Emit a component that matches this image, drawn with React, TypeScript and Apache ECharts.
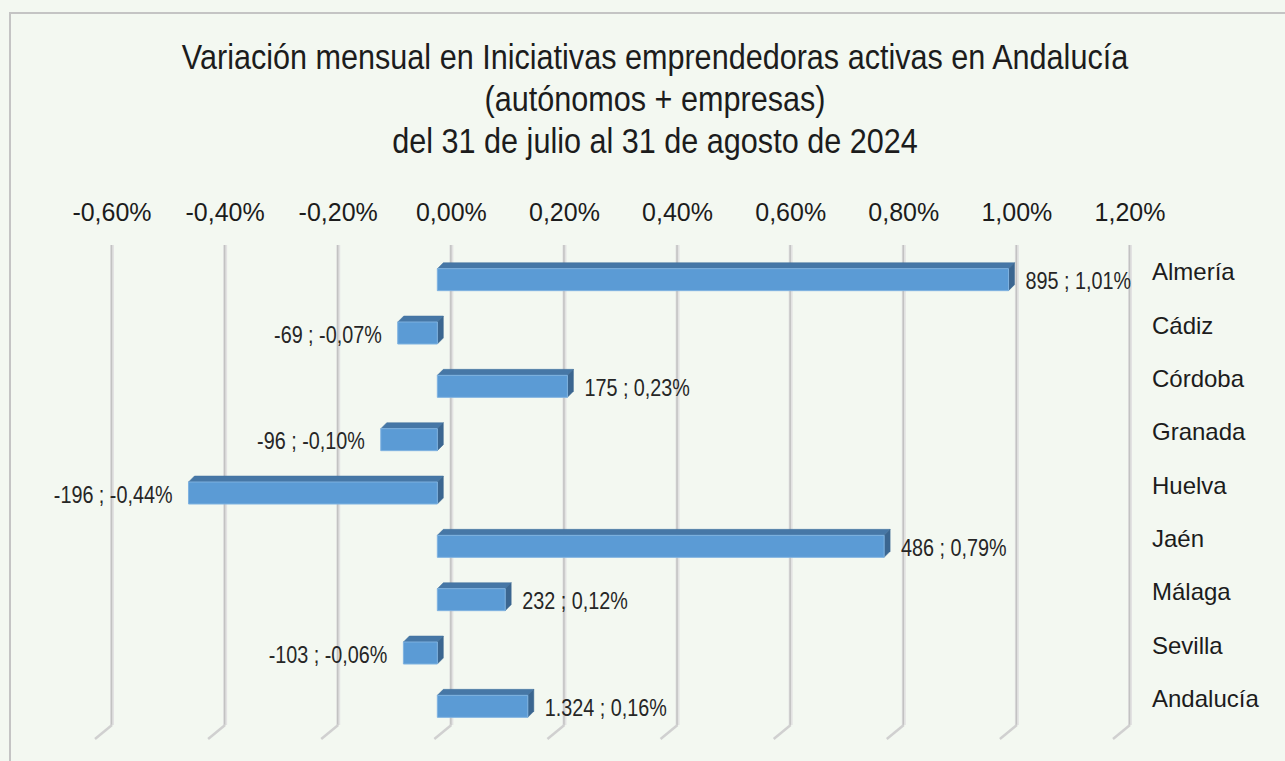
import React, { useEffect, useRef } from "react";
import * as echarts from "echarts";

const categories = ["Almería", "Cádiz", "Córdoba", "Granada", "Huelva", "Jaén", "Málaga", "Sevilla", "Andalucía"];
const pctValues = [1.01, -0.07, 0.23, -0.1, -0.44, 0.79, 0.12, -0.06, 0.16];
const countValues = [895, -69, 175, -96, -196, 486, 232, -103, 1324];
const tickValues = [-0.6, -0.4, -0.2, 0, 0.2, 0.4, 0.6, 0.8, 1.0, 1.2];
const titleLines = [
  "Variación mensual en Iniciativas emprendedoras activas en Andalucía",
  "(autónomos + empresas)",
  "del 31 de julio al 31 de agosto de 2024",
];

const fmtPct = (v: number) => v.toFixed(2).replace(".", ",") + "%";
const fmtCount = (v: number) => {
  const s = Math.abs(v).toString().replace(/\B(?=(\d{3})+(?!\d))/g, ".");
  return (v < 0 ? "-" : "") + s;
};

const FONT = "'Liberation Sans', Arial, sans-serif";
const TXT = "#1c1c1c";

export default function App() {
  const ref = useRef<HTMLDivElement>(null);
  useEffect(() => {
    document.body.style.margin = "0";
    const chart = echarts.init(ref.current!, null, { renderer: "svg" });
    const FX = -14; // front-plane offset
    const FY = 8;
    const BH = 22; // bar thickness
    const DX = 6, DY = -6; // bar depth
    chart.setOption({
      animation: false,
      backgroundColor: "#f3f8f1",
      graphic: [
        {
          type: "rect",
          shape: { x: 10, y: 13, width: 1300, height: 800 },
          style: { fill: "none", stroke: "#c4c4c4", lineWidth: 2 },
          silent: true,
        },
        ...titleLines.map((t, k) => ({
          type: "text",
          x: 655,
          y: 57 + k * 42,
          scaleX: 0.85,
          silent: true,
          style: {
            text: t,
            fontFamily: FONT,
            fontSize: 36,
            fill: TXT,
            align: "center",
            verticalAlign: "middle",
          },
        })),
      ],
      grid: { left: 112, right: 155, top: 245, height: 480 },
      xAxis: {
        type: "value",
        position: "top",
        min: -0.6,
        max: 1.2,
        interval: 0.2,
        axisLine: { show: false },
        axisTick: { show: false },
        splitLine: { show: false },
        axisLabel: {
          margin: 21,
          fontFamily: FONT,
          fontSize: 25,
          color: TXT,
          formatter: (v: number) => fmtPct(v),
        },
      },
      yAxis: {
        type: "category",
        data: categories,
        inverse: true,
        position: "right",
        axisLine: { show: false },
        axisTick: { show: false },
        splitLine: { show: false },
        axisLabel: { align: "left", margin: 22, fontFamily: FONT, fontSize: 24, color: TXT },
      },
      series: [
        {
          type: "custom",
          data: tickValues.map((v) => [v, 0]),
          encode: { x: 0, y: 1 },
          z: 1,
          silent: true,
          renderItem: (params: any, api: any) => {
            const cs = params.coordSys;
            const x = api.coord([api.value(0), 0])[0];
            const top = cs.y;
            const bottom = cs.y + cs.height;
            return {
              type: "group",
              children: [
                { type: "line", shape: { x1: x, y1: top, x2: x, y2: bottom }, style: { stroke: "#e2e2e2", lineWidth: 4 } },
                { type: "line", shape: { x1: x - 0.5, y1: top, x2: x - 0.5, y2: bottom }, style: { stroke: "#c2c2c2", lineWidth: 1.5 } },
                { type: "line", shape: { x1: x, y1: bottom, x2: x - 17, y2: bottom + 14 }, style: { stroke: "#d0d0d0", lineWidth: 2.5 } },
              ],
            };
          },
        },
        {
          type: "custom",
          data: pctValues.map((v, i) => [v, i]),
          encode: { x: 0, y: 1 },
          z: 3,
          renderItem: (params: any, api: any) => {
            const v = api.value(0);
            const idx = api.value(1);
            const i = params.dataIndex;
            const p0 = api.coord([0, idx]);
            const p1 = api.coord([v, idx]);
            const xl = Math.min(p0[0], p1[0]) + FX;
            const xr = Math.max(p0[0], p1[0]) + FX;
            const yc = p0[1] + FY;
            const yt = yc - BH / 2;
            const yb = yc + BH / 2;
            const label = fmtCount(countValues[i]) + " ; " + fmtPct(v);
            const pos = v >= 0;
            return {
              type: "group",
              children: [
                {
                  type: "polygon",
                  shape: { points: [[xl, yt], [xr, yt], [xr + DX, yt + DY], [xl + DX, yt + DY]] },
                  style: { fill: "#4677a6", stroke: "#40709c", lineWidth: 0.5 },
                },
                {
                  type: "polygon",
                  shape: { points: [[xr, yt], [xr + DX, yt + DY], [xr + DX, yb + DY], [xr, yb]] },
                  style: { fill: "#3b6690", stroke: "#3b6690", lineWidth: 0.5 },
                },
                {
                  type: "rect",
                  shape: { x: xl, y: yt, width: xr - xl, height: BH },
                  style: { fill: "#5b9bd5", stroke: "#7fb2e0", lineWidth: 1 },
                },
                {
                  type: "text",
                  x: pos ? xr + 17 : xl - 16,
                  y: yc + 2,
                  scaleX: 0.86,
                  style: {
                    text: label,
                    fontFamily: FONT,
                    fontSize: 23,
                    fill: "#262626",
                    align: pos ? "left" : "right",
                    verticalAlign: "middle",
                  },
                },
              ],
            };
          },
        },
      ],
    });
    return () => chart.dispose();
  }, []);
  return <div ref={ref} style={{ position: "fixed", left: 0, top: 0, width: 1285, height: 761 }} />;
}
